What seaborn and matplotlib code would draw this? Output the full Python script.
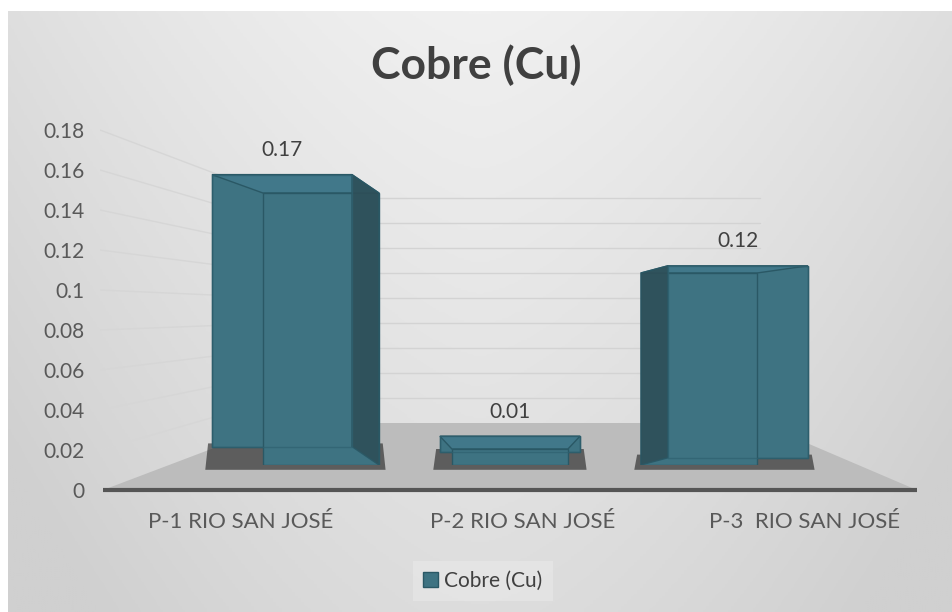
import numpy as np
import matplotlib
matplotlib.use("Agg")
import matplotlib.pyplot as plt
from matplotlib.colors import LinearSegmentedColormap
from matplotlib.patches import Polygon, Patch
import seaborn as sns

# datos del grafico
puntos = ["P-1 RIO SAN JOSÉ", "P-2 RIO SAN JOSÉ", "P-3  RIO SAN JOSÉ"]
cobre = [0.17, 0.01, 0.12]
serie = "Cobre (Cu)"
ticks_y = [0, 0.02, 0.04, 0.06, 0.08, 0.1, 0.12, 0.14, 0.16, 0.18]
etiquetas_y = ["0", "0.02", "0.04", "0.06", "0.08", "0.1", "0.12", "0.14", "0.16", "0.18"]

sns.set_theme(style="white")
plt.rcParams['font.family'] = ['Lato', 'DejaVu Sans']

teal = '#3e7382'
teal_borde = '#2a5865'
teal_oscuro = '#2e4f58'
gris_texto = '#595959'
W, H = 952, 612

fig = plt.figure(figsize=(9.52, 6.12), dpi=100)
fig.patch.set_facecolor('white')

# fondo con degradado (estilo Excel)
bg = fig.add_axes([8 / W, 0, 1 - 8 / W, 1 - 11 / H], zorder=-10)
gx, gy = np.meshgrid(np.linspace(-1, 1, 300), np.linspace(0, 1, 300))
grad = np.clip(0.55 * np.abs(gx) ** 1.5 + 0.6 * gy, 0, 1)
cmap_bg = LinearSegmentedColormap.from_list('fondo', ['#f0f0f0', '#d0d0d0'])
bg.imshow(grad, cmap=cmap_bg, aspect='auto', extent=[0, 1, 0, 1], origin='upper')
bg.axis('off')

# "pared" y piso: eje de valores y categorias
ax = fig.add_axes([100 / W, 1 - 490 / H, 845 / W, 400 / H])
ax.patch.set_alpha(0)
ax.set_xlim(-0.5, 2.5)
ax.set_ylim(0, 0.2)

esq_izq, esq_der = 0.139, 1.843   # esquinas del fondo (pared trasera)
def y_fondo(t):
    return 0.0335 + 0.625 * t

piso = Polygon([(-0.489, 0), (2.40, 0), (esq_der, y_fondo(0)), (esq_izq, y_fondo(0))],
               closed=True, facecolor='#bcbcbc', edgecolor='none', zorder=1)
ax.add_patch(piso)
ax.plot([-0.489, 2.40], [0, 0], color='#555555', lw=3, solid_capstyle='butt',
        zorder=1.5, clip_on=False)
for t in ticks_y[1:]:
    ax.plot([-0.5, esq_izq], [t, y_fondo(t)], color='#d6d6d6', lw=1, zorder=0.5)
    ax.plot([esq_izq, esq_der], [y_fondo(t), y_fondo(t)], color='#d3d3d3', lw=1, zorder=0.5)

ax.set_xticks(range(len(puntos)), puntos)
ax.set_yticks(ticks_y, etiquetas_y)
for s in ax.spines.values():
    s.set_visible(False)
ax.tick_params(axis='y', length=0, labelsize=15, colors=gris_texto, pad=11)
ax.tick_params(axis='x', length=0, labelsize=16, colors=gris_texto, pad=16)

# barras (plano de las barras, con su propia escala en perspectiva)
axb = fig.add_axes([100 / W, 1 - 465 / H, 845 / W, 400 / H], zorder=2)
sns.barplot(x=puntos, y=cobre, color=teal, width=0.614, saturation=1,
            edgecolor=teal_borde, linewidth=1, ax=axb, zorder=4)
barras = list(axb.patches)
axb.set_xlim(-1.169, 3.302)
axb.set_ylim(0, 0.25)
axb.set_axis_off()

# caras 3D derivadas de cada barra
for p, v in zip(barras, cobre):
    x0, w, h = p.get_x(), p.get_width(), p.get_height()
    s = x0 + w / 2 - 1
    dxl = 0.2065 * s - 0.0635
    dxr = 0.2065 * s + 0.0635
    dy = 0.008 - 0.0035 * s
    frente = [(x0, 0), (x0 + w, 0), (x0 + w, h), (x0, h)]
    fondo = [(x0 + dxl, dy), (x0 + w + dxr, dy), (x0 + w + dxr, h + dy), (x0 + dxl, h + dy)]
    # sombra sobre el piso
    xs = [x for x, _ in frente + fondo]
    axb.add_patch(Polygon([(min(xs) - 0.035, -0.003), (max(xs) + 0.035, -0.003),
                           (max(xs) + 0.02, dy + 0.002), (min(xs) - 0.02, dy + 0.002)],
                          closed=True, facecolor='#1e1e1e', alpha=0.6,
                          edgecolor='none', zorder=2, clip_on=False))
    axb.add_patch(Polygon(fondo, closed=True, facecolor=teal,
                          edgecolor=teal_borde, lw=1, zorder=2.5))
    tapa = [frente[3], frente[2], fondo[2], fondo[3]]
    axb.add_patch(Polygon(tapa, closed=True, facecolor='#41788a',
                          edgecolor=teal_borde, lw=1, zorder=3))
    lado = None
    if s < 0:
        lado = [frente[1], frente[2], fondo[2], fondo[1]]
    elif s > 0:
        lado = [frente[0], frente[3], fondo[3], fondo[0]]
    if lado is not None:
        axb.add_patch(Polygon(lado, closed=True, facecolor=teal_oscuro, alpha=0.9,
                              edgecolor=teal_borde, lw=1, zorder=4.5))
    # aristas interiores (efecto vidrio)
    bx = [q[0] for q in fondo] + [fondo[0][0]]
    by = [q[1] for q in fondo] + [fondo[0][1]]
    axb.plot(bx, by, color='#2f6170', lw=1, alpha=0.7, zorder=4.6)
    axb.text((fondo[0][0] + fondo[1][0]) / 2, h + dy + 0.009, f"{v:g}",
             ha='center', va='bottom', fontsize=15, color='#404040', zorder=5)

fig.text(0.5, 1 - 65 / H, serie, ha='center', va='center', fontsize=32,
         fontweight='bold', color='#404040')

leyenda = fig.legend(handles=[Patch(facecolor=teal, edgecolor=teal_borde, label=serie)],
                     loc='center', bbox_to_anchor=(483 / W, 1 - 581 / H),
                     frameon=True, fontsize=15, handlelength=0.7, handleheight=0.7,
                     handletextpad=0.3, borderpad=0.5, fancybox=False)
leyenda.get_frame().set_facecolor('#e6e6e6')
leyenda.get_frame().set_edgecolor('none')
for t in leyenda.get_texts():
    t.set_color('#404040')

plt.savefig('out.png', dpi=100)
